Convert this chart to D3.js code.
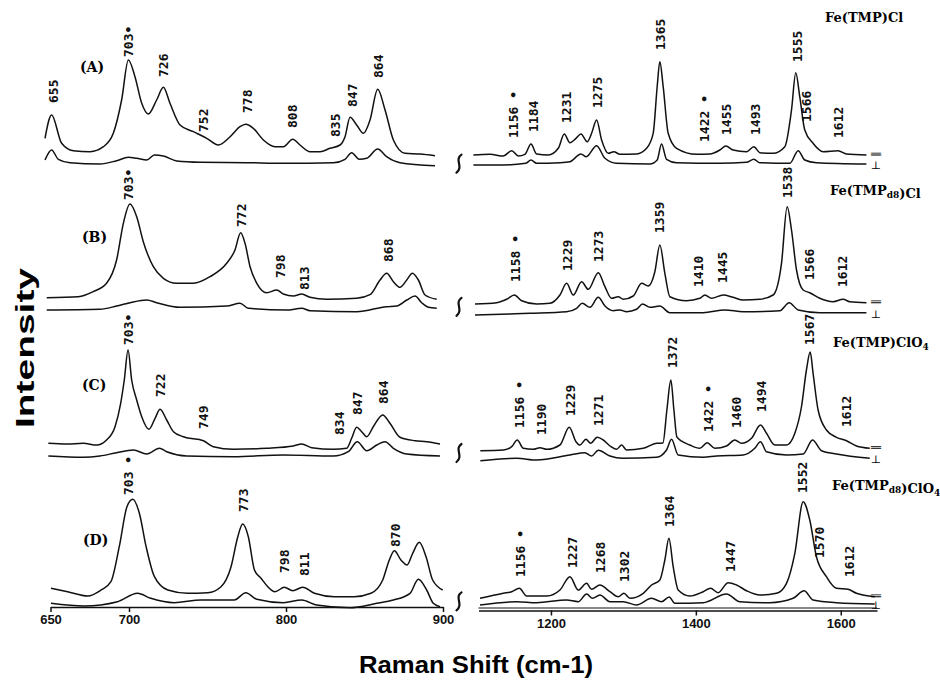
<!DOCTYPE html>
<html>
<head>
<meta charset="utf-8">
<script src="https://cdn.jsdelivr.net/npm/d3@7"></script>
<style>
  body { margin: 0; background: #fff; }
  svg { display: block; }
</style>
</head>
<body>
<div id="chart"></div>
<script>
// Raman spectra, four samples, parallel (upper) and perpendicular (lower) traces.
// Values: [wavenumber cm-1, intensity (arb.)]

// ---- (A) Fe(TMP)Cl
var aLeftPar = [[646.5,29.7],[650.7,53],[657.1,24.7],[664.5,17.3],[675.2,16.3],[683.7,21.3],[690,34.7],[695.3,68],[699.6,108],[703.8,91.3],[708.1,64.7],[712.3,54],[717.6,68],[721.9,80.7],[726.1,64.7],[732.5,43],[741,36.3],[749.5,29.7],[756.9,23],[764.4,31.3],[770.7,41.3],[774.3,43.7],[779.2,39.7],[785.6,28],[793,21.3],[798.3,21.3],[804.3,28.7],[808.9,23],[815.3,16.3],[821.7,16.3],[828,19.7],[834.4,23],[837.6,31.3],[840.8,50.7],[845,43],[849.3,34.7],[853.5,48],[858.4,78.7],[863.1,58],[868.4,28],[875.8,14.7],[885.4,14],[894.9,12.3]];
var aLeftPerp = [[646.5,8],[650.7,18],[655,8.7],[662.4,5.3],[681.5,4],[692.1,7.3],[699.6,10.7],[704.9,9.7],[711.3,8],[716.2,13],[721.9,12],[730.4,7],[745.2,5.7],[774.9,5.3],[798.3,4.7],[830.1,5.3],[837.6,8.7],[841.8,15.3],[846.7,8.7],[851.4,9.7],[858.4,19],[864.1,11.3],[872.6,5.3],[894.9,2.3]];
var aRightPar = [[1092.9,13],[1115.9,13.7],[1134.2,12],[1145.8,17.3],[1154.9,12],[1164.1,13.7],[1172.4,24],[1180.2,14],[1196.3,13],[1210.1,19.7],[1218.4,34],[1226.2,25.3],[1234.5,29.7],[1241.4,34],[1250.1,26.3],[1256.1,34.7],[1263,48],[1269.9,28],[1279.1,14.7],[1286.9,16.3],[1295.2,13.7],[1318.2,14],[1332,19.7],[1341.1,34.7],[1346.6,81.3],[1350.3,106.3],[1354.9,81.3],[1361.8,34.7],[1373.4,19.7],[1401,13.7],[1419.3,14],[1433.1,18],[1441.4,22],[1451.4,18],[1469.9,16.3],[1480,21.3],[1488.3,15.3],[1506.6,14.7],[1522.8,21.3],[1532,58],[1537.9,95.3],[1543.4,71.3],[1550.3,38],[1561.8,24.7],[1575.6,16.3],[1596.3,17.3],[1607.9,14],[1635.4,13]];
var aRightPerp = [[1092.9,3],[1134.2,3],[1165.5,4.7],[1172.4,8],[1180.2,4.7],[1212.4,5.3],[1226.2,6.3],[1241.4,14],[1248.8,11.3],[1263,22.3],[1274.5,9.7],[1290.6,4.7],[1336.6,4],[1346.6,8],[1352.6,24],[1359.5,8.7],[1373.4,5.3],[1433.1,4.7],[1469.9,5.7],[1480,8.7],[1488.3,5.3],[1529.7,4.7],[1541.2,17.3],[1550.3,8],[1566.4,5.3],[1635.4,4]];
var aLeftLabels = [['655',651.6,65],['703•',699.4,111],['726',721.7,91],['752',747.1,36],['778',775.2,55],['808',803.8,40],['835',831.2,31],['847',842,61],['864',858.6,90]];
var aRightLabels = [['1156 •',1147.6,30],['1184',1175.2,36],['1231',1220.7,45],['1275',1263.4,60],['1365',1350.3,118],['1422 •',1411,26],['1455',1441.4,33],['1493',1481.4,33],['1555',1540.7,106],['1566',1553.1,46],['1612',1597.2,30]];

// ---- (B) Fe(TMPd8)Cl
var bLeftPar = [[647.6,20.3],[667.7,21.3],[677.2,26.3],[685.7,34.7],[692.1,58],[696.4,94.7],[700.6,114],[704.9,101.3],[709.1,76.3],[715.5,51.3],[721.9,39.7],[730.4,34.7],[741,34.7],[751.6,41.3],[762.2,54.7],[767.5,68],[771.1,85.3],[773.9,74.7],[777.1,51.3],[781.4,34.7],[787.7,25.3],[794.1,28],[798.3,24],[804.7,22],[810,24],[815.3,20.7],[825.9,18.7],[845,19.7],[853.5,23.3],[859.9,38],[864.1,44.7],[868.4,36.3],[872.6,30.7],[876.9,38],[880.5,44.7],[884.3,38],[888.6,23],[896,18.7]];
var bLeftPerp = [[647.6,8],[681.5,8.7],[692.1,12],[700.6,15.3],[711.3,18],[717.6,15.3],[732.5,10.7],[762.2,12],[770.7,14.7],[776,9.7],[800.4,8],[810,9.7],[815.3,7.3],[845,6.3],[864.1,11.3],[870.5,12],[876.9,18],[882.2,22],[886.4,15.3],[890.7,10.7],[896,9.7]];
var bRightPar = [[1095.2,14],[1125.1,15.3],[1138.9,18.7],[1149.4,23],[1159.6,17.3],[1180.2,14],[1198.6,14.7],[1212.4,23],[1221.6,34.7],[1230.8,23],[1242.3,36.3],[1251.5,28.7],[1265.3,45.3],[1274.5,31.3],[1283.7,19.7],[1292.9,21.3],[1299.8,18.7],[1313.6,22],[1325.1,34.7],[1334.3,32],[1343.4,46.3],[1350.3,73],[1357.2,44.7],[1364.1,21.3],[1387.1,17.3],[1405.5,19.7],[1412.4,23],[1421.6,19.7],[1437.7,23],[1451.4,20.7],[1465.3,18],[1488.3,18.7],[1506.6,23],[1518.2,54.7],[1526,111.3],[1532,88],[1538.9,48],[1548.1,28],[1557.2,25.3],[1571,19.7],[1589.4,16.3],[1603.2,18.7],[1612.4,16.3],[1635.4,15.3]];
var bRightPerp = [[1095.2,3],[1143.5,4],[1171.1,4.7],[1221.6,6.3],[1235.4,9.7],[1243.2,14.7],[1253.8,10.7],[1265.3,20.7],[1274.5,12],[1286,7.3],[1295.2,8],[1304.4,6.3],[1318.2,8.7],[1326.5,14],[1336.6,10.7],[1350.3,12],[1364.1,5.3],[1410.1,5.3],[1440,8],[1465.3,6.3],[1515.9,7.3],[1528.8,15.3],[1541.2,8],[1571,5.3],[1635.4,5.3]];
var bLeftLabels = [['703•',699.4,118],['772',771.3,91],['798',796.2,40],['813',811.5,28],['868',865,56]];
var bRightLabels = [['1158 •',1150.3,36],['1229',1222.1,47],['1273',1264.8,56],['1359',1348.9,85],['1410',1402.8,31],['1445',1435.9,35],['1538',1526.9,120],['1566',1557.2,38],['1612',1602.8,31]];

// ---- (C) Fe(TMP)ClO4
var cLeftPar = [[648.6,18.7],[660.3,18],[670.9,18.7],[679.4,17],[685.7,22],[691.1,35.3],[694.7,58.7],[697,82],[699.4,112],[701.7,82],[704.9,62],[708.1,45.3],[712.7,32.7],[716.6,43.7],[719.8,52.7],[724,42],[728.3,30.3],[734.6,25.3],[747.4,21.3],[753.7,15.3],[766.5,12.7],[787.7,13.7],[804.7,16],[810,18],[816.4,14.3],[830.1,12.7],[838.6,13.7],[841.8,23.7],[845,34.7],[848.2,30.3],[851.4,25.3],[855.6,35.3],[861.6,47],[866.2,38.7],[872.6,24.7],[882.2,21.3],[889.6,20.3],[898.1,18]];
var cLeftPerp = [[648.6,6],[670.9,4.7],[681.5,6],[692.1,9.3],[702.8,12],[711.3,8],[719.4,13.7],[724,10.3],[736.7,6],[766.5,5.3],[798.3,7],[830.1,6],[839.7,10.3],[845.4,20.3],[851.4,11.3],[857.8,17],[863.1,20.3],[868.4,13.7],[876.9,8],[898.1,6]];
var cRightPar = [[1102.5,11.3],[1134.6,12],[1145.8,15.3],[1153.5,22],[1161.8,13.7],[1175.6,12.7],[1184.8,14.3],[1194.1,12.7],[1212.4,17],[1225.3,34.7],[1234.5,20.3],[1240,17],[1248.3,22.7],[1254.7,18.7],[1263.9,24.7],[1272.2,22],[1281.4,16],[1290.6,12.7],[1297.5,17],[1304.4,12],[1327.4,13.7],[1345.7,18.7],[1354.5,19],[1360,52],[1365.5,82],[1369.7,52],[1373.8,25],[1391.7,17],[1405.5,13.7],[1415.6,19.3],[1426.2,13.7],[1442.3,16],[1453.8,22],[1463,18.7],[1476.8,23.7],[1489.2,37],[1497.5,28.7],[1509,17],[1525.1,17],[1536.6,28.7],[1545.7,55],[1552.6,92],[1557.8,110],[1561.8,88.7],[1568.7,52],[1580.2,32],[1594,24.7],[1607.9,21.3],[1621.6,16],[1640,13.7]];
var cRightPerp = [[1102.5,1.3],[1152.6,3.7],[1180.2,2],[1226.2,7],[1246.9,9.3],[1256.1,6],[1265.3,11.7],[1281.4,6],[1298.9,3.7],[1345.7,4.7],[1359.5,12],[1366.4,22.7],[1375.6,7],[1410.1,4.7],[1428.5,6],[1465.3,7],[1481.3,13.7],[1489.2,20.3],[1497.5,10.3],[1525.1,7],[1548.1,8],[1561,22],[1573.4,11.3],[1594,8],[1640,3.7]];
var cLeftLabels = [['703•',699.4,117],['722',719.7,65],['749',747.1,33],['834',833.8,27],['847',845.2,47],['864',861.8,58]];
var cRightLabels = [['1156 •',1155.9,34],['1190',1186.2,27],['1229',1226.2,46],['1271',1264.8,36],['1372',1366.9,94],['1422 •',1416.6,30],['1460',1455.2,34],['1494',1489.7,50],['1567',1557.2,117],['1612',1608.3,35]];

// ---- (D) Fe(TMPd8)ClO4
var dLeftPar = [[650.3,19.7],[660.9,16.3],[673.7,12],[682.2,18],[688.5,26.3],[693.8,61.3],[698.7,101.3],[702.4,108.7],[706.6,94.7],[710.9,61.3],[716.2,31.3],[724.7,18],[737.4,14.7],[750.1,15.3],[758.6,21.3],[765,41.3],[769.3,71.3],[772.4,84],[776,71.3],[779.9,38],[784.1,29.7],[788.4,21.3],[793,16.3],[799,20.7],[804.3,17.3],[810.6,20.7],[818.1,14.7],[830.8,11.3],[843.5,11.3],[854.1,14.7],[861.6,28],[865.8,48],[869,57.3],[873.2,48],[877.1,43],[880.7,54.7],[884.9,65.7],[889.2,51.3],[893.4,28],[899.8,18]];
var dLeftPerp = [[650.3,4.7],[671.4,2],[692.7,6.3],[705.4,14.7],[713.9,9.7],[728.8,5.3],[745.8,8],[767,8],[774.4,15.3],[781.4,8.7],[798.3,5.3],[810,8],[819.5,3],[840.8,0.3],[857.8,4.7],[868.4,8],[879,14.7],[884.3,28.7],[889.6,18],[893.8,4.7],[898.1,1.3]];
var dRightPar = [[1102.1,9.7],[1134.2,14.7],[1145.8,16.3],[1156.3,19.7],[1166.5,12],[1194.1,12],[1212.4,18],[1226.2,31.3],[1237.7,18],[1249.2,24.7],[1256.1,18.7],[1267.6,23],[1281.4,16.3],[1292.9,11.3],[1300.7,14.7],[1309,9.7],[1327.4,14.7],[1338.9,23],[1350.3,28],[1357.2,48],[1362.8,69.7],[1368.7,41.3],[1375.6,18],[1391.7,12],[1410.1,16.3],[1420.2,19.7],[1430.8,15.3],[1444.6,25.3],[1456.1,23],[1469.9,17.3],[1488.3,13],[1511.3,14.7],[1525.1,24.7],[1536.6,54.7],[1548.1,106.3],[1557.2,88],[1566.4,51.3],[1580.2,31.3],[1594,19.7],[1610.1,18.7],[1621.6,14.7],[1646.9,11.3]];
var dRightPerp = [[1102.1,3],[1152.6,6.3],[1180.2,5.3],[1221.6,8],[1237.7,6.3],[1249.2,14],[1257.5,9.7],[1267.6,13],[1281.4,6.3],[1299.8,6.3],[1318.2,3],[1338.9,9.7],[1352.6,6.3],[1363.2,11],[1371,4.7],[1410.1,5.3],[1442.3,14],[1460.7,6.3],[1502.1,5.3],[1534.3,9.7],[1549.4,17.3],[1561.8,8],[1594,5.3],[1646.9,4]];
var dLeftLabels = [['703 •',699.4,113],['773',772.6,96],['798',798.7,35],['811',811.5,32],['870',869.4,61]];
var dRightLabels = [['1156 •',1157.2,31],['1227',1229,40],['1268',1267.6,35],['1302',1300.7,26],['1364',1362.8,81],['1447',1446.9,36],['1552',1547.6,115],['1570',1571,50],['1612',1612.4,31]];

var panelLetters = ['(A)', '(B)', '(C)', '(D)'];
var compounds = ['Fe(TMP)Cl', 'Fe(TMP{d8})Cl', 'Fe(TMP)ClO{4}', 'Fe(TMP{d8})ClO{4}'];
var leftTicks = [650, 700, 800, 900];
var rightTicks = [1200, 1400, 1600];

// layout
var W = 940, H = 681;
var AXIS_Y = 607;
var panelBase = [168, 318, 462, 608];
var letterPos = [[80, 72], [82, 242], [82, 390], [83, 545]];
var compoundPos = [[825, 22], [830, 195], [833, 347], [832, 490]];

var svg = d3.select('#chart').append('svg')
  .attr('width', W).attr('height', H);

var xL = d3.scaleLinear().domain([650, 900]).range([50.5, 443]);
var xR = d3.scaleLinear().domain([1100, 1650]).range([478.5, 877]);

var panels = [
  { lp: aLeftPar, lq: aLeftPerp, rp: aRightPar, rq: aRightPerp, ll: aLeftLabels, rl: aRightLabels },
  { lp: bLeftPar, lq: bLeftPerp, rp: bRightPar, rq: bRightPerp, ll: bLeftLabels, rl: bRightLabels },
  { lp: cLeftPar, lq: cLeftPerp, rp: cRightPar, rq: cRightPerp, ll: cLeftLabels, rl: cRightLabels },
  { lp: dLeftPar, lq: dLeftPerp, rp: dRightPar, rq: dRightPerp, ll: dLeftLabels, rl: dRightLabels }
];

function drawTrace(g, data, x, y) {
  var line = d3.line()
    .x(function (d) { return x(d[0]); })
    .y(function (d) { return y(d[1]); })
    .curve(d3.curveMonotoneX);
  g.append('path')
    .attr('d', line(data))
    .attr('fill', 'none')
    .attr('stroke', '#111')
    .attr('stroke-width', 1.5)
    .attr('stroke-linejoin', 'round');
}

function drawLabels(g, labels, x, y) {
  g.selectAll(null).data(labels).enter().append('text')
    .attr('transform', function (d) { return 'translate(' + x(d[1]) + ',' + y(d[2]) + ') rotate(-90)'; })
    .attr('dy', '0.36em')
    .attr('font-family', 'DejaVu Sans Mono, Liberation Mono, monospace')
    .attr('font-weight', 'bold')
    .attr('font-size', 13)
    .attr('fill', '#111')
    .text(function (d) { return d[0]; });
}

panels.forEach(function (p, i) {
  var base = panelBase[i];
  var y = d3.scaleLinear().domain([0, 100]).range([base, base - 100]);
  var g = svg.append('g');

  drawTrace(g, p.lp, xL, y);
  drawTrace(g, p.lq, xL, y);
  drawTrace(g, p.rp, xR, y);
  drawTrace(g, p.rq, xR, y);
  drawLabels(g, p.ll, xL, y);
  drawLabels(g, p.rl, xR, y);

  // panel letter
  g.append('text')
    .attr('x', letterPos[i][0]).attr('y', letterPos[i][1])
    .attr('font-family', 'DejaVu Serif, Liberation Serif, serif')
    .attr('font-weight', 'bold').attr('font-size', 14)
    .text(panelLetters[i]);

  // compound name with subscripts
  var t = g.append('text')
    .attr('x', compoundPos[i][0]).attr('y', compoundPos[i][1])
    .attr('font-family', 'DejaVu Serif, Liberation Serif, serif')
    .attr('font-weight', 'bold').attr('font-size', 13);
  compounds[i].split(/(\{[^}]*\})/).forEach(function (part) {
    if (!part) return;
    if (part.charAt(0) === '{') {
      t.append('tspan').attr('font-size', 9).attr('dy', 3).text(part.slice(1, -1));
      t.append('tspan').attr('dy', -3).text('');
    } else {
      t.append('tspan').text(part);
    }
  });

  // break mark between the two ranges
  var lastP = p.lp[p.lp.length - 1], lastQ = p.lq[p.lq.length - 1];
  var by = (y(lastP[1]) + y(lastQ[1])) / 2 + 3;
  var bx = 459;
  g.append('path')
    .attr('d', 'M' + (bx + 2.5) + ',' + (by - 9) + ' C' + (bx - 5) + ',' + (by - 4) + ' ' + (bx + 5) + ',' + (by + 3) + ' ' + (bx - 2.5) + ',' + (by + 9))
    .attr('fill', 'none').attr('stroke', '#111').attr('stroke-width', 2.2)
    .attr('stroke-linecap', 'round');

  // polarisation marks at the right end
  var endP = p.rp[p.rp.length - 1], endQ = p.rq[p.rq.length - 1];
  g.append('text')
    .attr('transform', 'translate(876,' + (y(endP[1]) - 1) + ') rotate(90)')
    .attr('text-anchor', 'middle').attr('dy', '0.35em')
    .attr('font-family', 'DejaVu Serif, serif').attr('font-size', 11)
    .text('\u2225');
  g.append('text')
    .attr('x', 876).attr('y', y(endQ[1]) + 5)
    .attr('text-anchor', 'middle')
    .attr('font-family', 'DejaVu Serif, serif').attr('font-size', 11)
    .text('\u22A5');
});

// axes
function styleAxis(g) {
  g.selectAll('path.domain').attr('stroke', '#111').attr('stroke-width', 1.5);
  g.selectAll('.tick line').attr('stroke', '#111').attr('stroke-width', 1.5);
  g.selectAll('.tick text')
    .attr('font-family', 'Liberation Sans, Arial, sans-serif')
    .attr('font-weight', 'bold').attr('font-size', 13).attr('fill', '#111');
}

var axL = svg.append('g').attr('transform', 'translate(0,' + AXIS_Y + ')')
  .call(d3.axisBottom(xL).tickValues(leftTicks).tickFormat(d3.format('d'))
    .tickSize(5).tickSizeOuter(0).tickPadding(3));
styleAxis(axL);

var axR = svg.append('g').attr('transform', 'translate(0,' + (AXIS_Y + 3.5) + ')')
  .call(d3.axisBottom(xR).tickValues(rightTicks).tickFormat(d3.format('d'))
    .tickSize(5).tickSizeOuter(0).tickPadding(3));
styleAxis(axR);
svg.append('line')
  .attr('x1', xR.range()[0]).attr('x2', xR.range()[1])
  .attr('y1', AXIS_Y + 1).attr('y2', AXIS_Y + 1)
  .attr('stroke', '#111').attr('stroke-width', 1.2);

// axis titles
svg.append('text')
  .attr('transform', 'translate(34,348) rotate(-90)')
  .attr('text-anchor', 'middle')
  .attr('font-family', 'Liberation Sans, Arial, sans-serif')
  .attr('font-weight', 'bold').attr('font-size', 25)
  .attr('textLength', 160).attr('lengthAdjust', 'spacingAndGlyphs')
  .text('Intensity');

svg.append('text')
  .attr('x', 476).attr('y', 673)
  .attr('text-anchor', 'middle')
  .attr('font-family', 'Liberation Sans, Arial, sans-serif')
  .attr('font-weight', 'bold').attr('font-size', 23)
  .attr('textLength', 234).attr('lengthAdjust', 'spacingAndGlyphs')
  .text('Raman Shift (cm-1)');
</script>
</body>
</html>
